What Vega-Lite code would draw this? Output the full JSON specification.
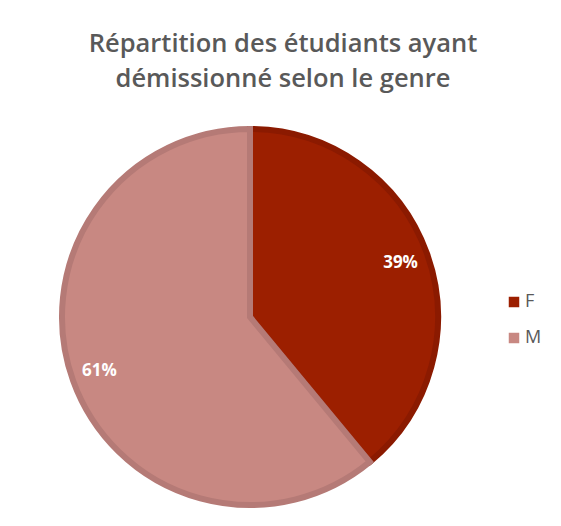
{
  "$schema": "https://vega.github.io/schema/vega-lite/v6.json",
  "autosize": "none",
  "width": 500,
  "height": 418,
  "padding": {"top": 108, "left": 0, "right": 61, "bottom": 0},
  "background": "white",
  "config": {"view": {"stroke": null}},
  "title": {
    "text": ["Répartition des étudiants ayant", "démissionné selon le genre"],
    "font": "Open Sans",
    "fontSize": 25.5,
    "fontWeight": 600,
    "color": "#595959",
    "anchor": "middle",
    "dx": 33,
    "offset": 16,
    "lineHeight": 35
  },
  "data": {
    "values": [
      {"genre": "F", "value": 39, "label": "39%"},
      {"genre": "M", "value": 61, "label": "61%"}
    ]
  },
  "encoding": {
    "theta": {"field": "value", "type": "quantitative", "stack": true},
    "order": {"field": "genre", "type": "nominal", "sort": "ascending"}
  },
  "layer": [
    {
      "mark": {"type": "arc", "radius": 188, "strokeWidth": 6},
      "encoding": {
        "color": {
          "field": "genre",
          "type": "nominal",
          "scale": {"domain": ["F", "M"], "range": ["#9C1F00", "#C88882"]},
          "legend": {
            "title": null,
            "orient": "none",
            "legendX": 505,
            "legendY": 185,
            "symbolType": "square",
            "symbolSize": 110,
            "symbolStrokeWidth": 0,
            "labelFont": "Open Sans",
            "labelFontSize": 18,
            "labelColor": "#595959",
            "rowPadding": 18,
            "labelOffset": 2
          }
        },
        "stroke": {
          "field": "genre",
          "type": "nominal",
          "scale": {"domain": ["F", "M"], "range": ["#8B1A00", "#B57A76"]},
          "legend": null
        }
      }
    },
    {
      "mark": {"type": "text", "radius": 160, "font": "Open Sans", "fontSize": 17, "fontWeight": "bold", "color": "white"},
      "encoding": {
        "text": {"field": "label", "type": "nominal"}
      }
    }
  ]
}
